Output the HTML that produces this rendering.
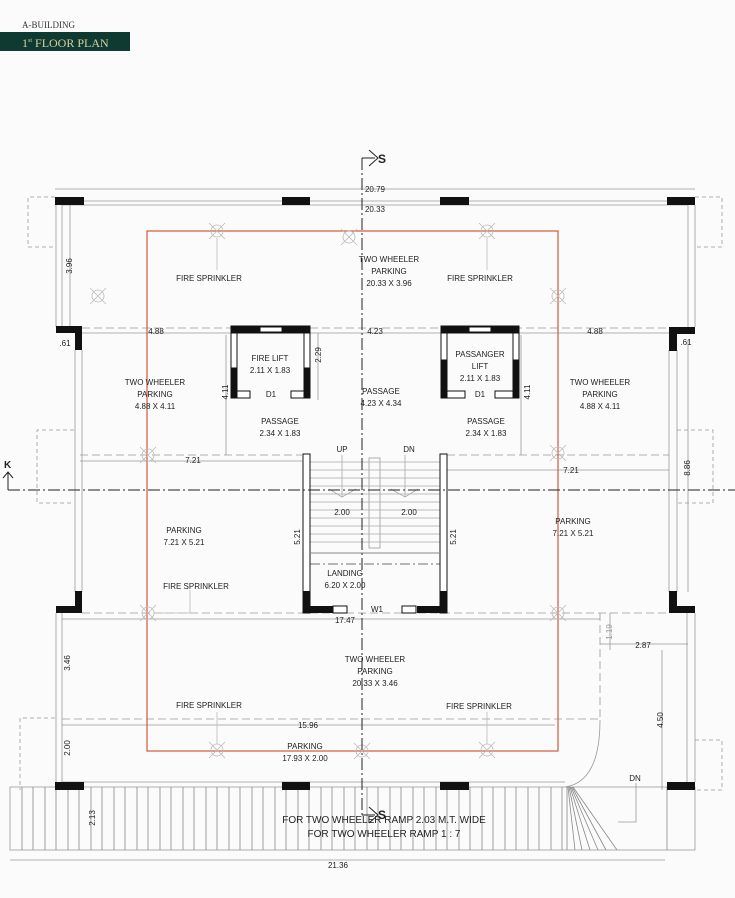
<!DOCTYPE html>
<html><head><meta charset="utf-8"><style>
html,body{margin:0;padding:0;background:#fbfbfb;}
svg{display:block;}
text{font-family:"Liberation Sans",sans-serif;font-size:8px;fill:#222;}
.c{text-anchor:middle;}
</style></head><body>
<svg width="735" height="898" viewBox="0 0 735 898" xmlns="http://www.w3.org/2000/svg">
<rect width="735" height="898" fill="#fbfbfb"/>
<!-- header -->
<text x="22" y="28" style="font-family:'Liberation Serif',serif;font-size:9px;fill:#333">A-BUILDING</text>
<rect x="0" y="32" width="130" height="19" fill="#0f3a32"/>
<text x="22" y="47" style="font-family:'Liberation Serif',serif;font-size:12px;fill:#d8cfa0">1<tspan font-size="6" dy="-5">st</tspan><tspan dy="5"> FLOOR PLAN</tspan></text>

<g stroke="#999" stroke-width="0.8" fill="none">
<!-- top dim -->
<line x1="55" y1="189" x2="695" y2="189"/>
<!-- top wall double -->
<line x1="55" y1="201" x2="695" y2="201"/>
<line x1="62" y1="205" x2="688" y2="205"/>
<!-- dashed projections -->
<path d="M55 197 H28 V247 H55" stroke-dasharray="4 3"/>
<path d="M695 197 H722 V247 H695" stroke-dasharray="4 3"/>
<path d="M74 430 H37 V503 H74" stroke-dasharray="4 3"/>
<path d="M677 430 H713 V503 H677" stroke-dasharray="4 3"/>
<path d="M55 718 H20 V790" stroke-dasharray="4 3"/>
<path d="M695 740 H722 V790 H695" stroke-dasharray="4 3"/>
<!-- left walls -->
<line x1="56" y1="205" x2="56" y2="327"/><line x1="62" y1="205" x2="62" y2="327"/>
<line x1="70" y1="205" x2="70" y2="327"/>
<line x1="75" y1="350" x2="75" y2="592"/><line x1="82" y1="350" x2="82" y2="592"/>
<line x1="56" y1="613" x2="56" y2="782"/><line x1="62" y1="613" x2="62" y2="782"/>
<!-- right walls -->
<line x1="688" y1="205" x2="688" y2="327"/><line x1="695" y1="205" x2="695" y2="327"/>
<line x1="669" y1="350" x2="669" y2="592"/><line x1="677" y1="350" x2="677" y2="592"/>
<line x1="688" y1="340" x2="688" y2="592"/>
<line x1="687" y1="613" x2="687" y2="782"/><line x1="695" y1="613" x2="695" y2="782"/>
<!-- dashed horizontal beams -->
<line x1="82" y1="328" x2="669" y2="328" stroke-dasharray="8 4"/>
<line x1="82" y1="333" x2="669" y2="333"/>
<line x1="80" y1="455" x2="302" y2="455" stroke-dasharray="8 4"/>
<line x1="80" y1="461" x2="302" y2="461"/>
<line x1="447" y1="455" x2="669" y2="455" stroke-dasharray="8 4"/>
<line x1="447" y1="470" x2="669" y2="470"/>
<line x1="82" y1="613" x2="669" y2="613" stroke-dasharray="8 4"/>
<line x1="62" y1="619" x2="600" y2="619"/>
<line x1="62" y1="719" x2="600" y2="719" stroke-dasharray="8 4"/>
<line x1="62" y1="725" x2="555" y2="725"/>
<line x1="600" y1="613" x2="600" y2="720" stroke-dasharray="8 4"/>
<line x1="600" y1="644" x2="688" y2="644"/>
<line x1="662" y1="650" x2="662" y2="790"/>
<line x1="610" y1="613" x2="610" y2="650"/>
<path d="M600 720 Q600 782 565 787"/>
<line x1="62" y1="782" x2="565" y2="782"/>
<!-- lift dims -->
<line x1="226" y1="335" x2="226" y2="455"/>
<line x1="318" y1="333" x2="318" y2="400"/>
<line x1="521" y1="335" x2="521" y2="455"/>
<!-- ramp -->
<rect x="10" y="787" width="685" height="63"/>
<line x1="10" y1="860" x2="665" y2="860"/>
<!-- DN leader -->
<path d="M636 783 V822 H618"/>
<!-- stair -->
<line x1="310" y1="564" x2="440" y2="564" stroke="#444" stroke-dasharray="10 3 2 3"/>
<rect x="369" y="458" width="11" height="90"/>
</g>
<!-- ramp lines -->
<g stroke="#888" stroke-width="0.8">
<line x1="22" y1="787" x2="22" y2="850"/><line x1="33" y1="787" x2="33" y2="850"/><line x1="45" y1="787" x2="45" y2="850"/><line x1="56" y1="787" x2="56" y2="850"/><line x1="68" y1="787" x2="68" y2="850"/><line x1="79" y1="787" x2="79" y2="850"/><line x1="91" y1="787" x2="91" y2="850"/><line x1="102" y1="787" x2="102" y2="850"/><line x1="114" y1="787" x2="114" y2="850"/><line x1="125" y1="787" x2="125" y2="850"/><line x1="137" y1="787" x2="137" y2="850"/><line x1="148" y1="787" x2="148" y2="850"/><line x1="160" y1="787" x2="160" y2="850"/><line x1="171" y1="787" x2="171" y2="850"/><line x1="183" y1="787" x2="183" y2="850"/><line x1="194" y1="787" x2="194" y2="850"/><line x1="206" y1="787" x2="206" y2="850"/><line x1="217" y1="787" x2="217" y2="850"/><line x1="229" y1="787" x2="229" y2="850"/><line x1="240" y1="787" x2="240" y2="850"/><line x1="252" y1="787" x2="252" y2="850"/><line x1="263" y1="787" x2="263" y2="850"/><line x1="275" y1="787" x2="275" y2="850"/><line x1="286" y1="787" x2="286" y2="850"/><line x1="298" y1="787" x2="298" y2="850"/><line x1="309" y1="787" x2="309" y2="850"/><line x1="321" y1="787" x2="321" y2="850"/><line x1="332" y1="787" x2="332" y2="850"/><line x1="344" y1="787" x2="344" y2="850"/><line x1="355" y1="787" x2="355" y2="850"/><line x1="367" y1="787" x2="367" y2="850"/><line x1="378" y1="787" x2="378" y2="850"/><line x1="390" y1="787" x2="390" y2="850"/><line x1="401" y1="787" x2="401" y2="850"/><line x1="413" y1="787" x2="413" y2="850"/><line x1="424" y1="787" x2="424" y2="850"/><line x1="436" y1="787" x2="436" y2="850"/><line x1="447" y1="787" x2="447" y2="850"/><line x1="459" y1="787" x2="459" y2="850"/><line x1="470" y1="787" x2="470" y2="850"/><line x1="482" y1="787" x2="482" y2="850"/><line x1="493" y1="787" x2="493" y2="850"/><line x1="505" y1="787" x2="505" y2="850"/><line x1="516" y1="787" x2="516" y2="850"/><line x1="528" y1="787" x2="528" y2="850"/><line x1="539" y1="787" x2="539" y2="850"/><line x1="551" y1="787" x2="551" y2="850"/><line x1="562" y1="787" x2="562" y2="850"/>
<line x1="567" y1="787" x2="567" y2="850"/><line x1="568" y1="787" x2="575" y2="850"/><line x1="569" y1="787" x2="582" y2="850"/><line x1="570" y1="787" x2="590" y2="850"/><line x1="571" y1="787" x2="598" y2="850"/><line x1="572" y1="787" x2="606" y2="850"/><line x1="573" y1="787" x2="617" y2="850"/>
<line x1="667" y1="787" x2="667" y2="850"/>
</g>
<!-- stair steps -->
<g stroke="#aaa" stroke-width="0.8">
<line x1="310" y1="462" x2="440" y2="462"/><line x1="310" y1="470" x2="440" y2="470"/><line x1="310" y1="478" x2="440" y2="478"/><line x1="310" y1="486" x2="440" y2="486"/><line x1="310" y1="494" x2="440" y2="494"/><line x1="310" y1="502" x2="440" y2="502"/><line x1="310" y1="510" x2="440" y2="510"/><line x1="310" y1="518" x2="440" y2="518"/><line x1="310" y1="526" x2="440" y2="526"/><line x1="310" y1="534" x2="440" y2="534"/><line x1="310" y1="542" x2="440" y2="542"/>
<path d="M329 489 L342 497 L356 489 M391 489 L405 497 L418 489" fill="none"/>
<line x1="342" y1="455" x2="342" y2="497"/><line x1="405" y1="455" x2="405" y2="497"/>
</g>
<!-- stair walls -->
<rect x="303" y="454" width="7" height="159" fill="#fff" stroke="#111" stroke-width="1"/>
<rect x="440" y="454" width="7" height="159" fill="#fff" stroke="#111" stroke-width="1"/>
<rect x="303" y="591" width="7" height="22" fill="#111"/>
<rect x="440" y="591" width="7" height="22" fill="#111"/>
<rect x="303" y="606" width="30" height="7" fill="#111"/>
<rect x="333" y="606" width="14" height="7" fill="#fff" stroke="#111"/>
<rect x="417" y="606" width="30" height="7" fill="#111"/>
<rect x="402" y="606" width="14" height="7" fill="#fff" stroke="#111"/>
<line x1="310" y1="553" x2="440" y2="553" stroke="#888" stroke-width="1"/>

<!-- columns -->
<g fill="#111">
<rect x="55" y="197" width="29" height="8"/><rect x="282" y="197" width="28" height="8"/><rect x="440" y="197" width="29" height="8"/><rect x="667" y="197" width="28" height="8"/>
<path d="M56 326 H82 V350 H75 V333 H56Z"/>
<path d="M669 327 H695 V334 H677 V351 H669Z"/>
<path d="M75 591 H82 V606 H82 V613 H56 V606 H75Z"/>
<path d="M669 591 H677 V606 H695 V613 H669Z"/>
<rect x="55" y="782" width="29" height="8"/><rect x="282" y="782" width="28" height="8"/><rect x="440" y="782" width="29" height="8"/><rect x="667" y="782" width="28" height="8"/>
</g>

<!-- lifts -->
<g stroke="#111" stroke-width="1">
<rect x="231" y="326" width="79" height="7" fill="#111"/>
<rect x="260" y="327" width="22" height="5" fill="#fff"/>
<rect x="231" y="333" width="6" height="65" fill="#fff"/><rect x="231" y="368" width="6" height="30" fill="#111"/>
<rect x="304" y="333" width="6" height="65" fill="#fff"/><rect x="304" y="368" width="6" height="30" fill="#111"/>
<rect x="237" y="391" width="13" height="7" fill="#fff"/><rect x="291" y="391" width="13" height="7" fill="#fff"/>
<rect x="441" y="326" width="78" height="7" fill="#111"/>
<rect x="469" y="327" width="22" height="5" fill="#fff"/>
<rect x="441" y="333" width="6" height="65" fill="#fff"/><rect x="441" y="360" width="6" height="38" fill="#111"/>
<rect x="513" y="333" width="6" height="65" fill="#fff"/><rect x="513" y="360" width="6" height="38" fill="#111"/>
<rect x="447" y="391" width="18" height="7" fill="#fff"/><rect x="495" y="391" width="18" height="7" fill="#fff"/>
</g>

<!-- red rect -->
<rect x="147" y="231" width="411" height="520" fill="none" stroke="#d25a3c" stroke-width="1.2"/>

<!-- sprinklers -->
<g stroke="#bbb" stroke-width="0.8" fill="none">
<g transform="translate(217,231)"><circle r="6"/><path d="M-8 -8 L8 8 M-8 8 L8 -8"/></g>
<g transform="translate(349,237)"><circle r="6"/><path d="M-8 -8 L8 8 M-8 8 L8 -8"/></g>
<g transform="translate(487,231)"><circle r="6"/><path d="M-8 -8 L8 8 M-8 8 L8 -8"/></g>
<g transform="translate(98,296)"><circle r="6"/><path d="M-8 -8 L8 8 M-8 8 L8 -8"/></g>
<g transform="translate(558,296)"><circle r="6"/><path d="M-8 -8 L8 8 M-8 8 L8 -8"/></g>
<g transform="translate(148,455)"><circle r="6"/><path d="M-8 -8 L8 8 M-8 8 L8 -8"/></g>
<g transform="translate(558,453)"><circle r="6"/><path d="M-8 -8 L8 8 M-8 8 L8 -8"/></g>
<g transform="translate(148,613)"><circle r="6"/><path d="M-8 -8 L8 8 M-8 8 L8 -8"/></g>
<g transform="translate(558,613)"><circle r="6"/><path d="M-8 -8 L8 8 M-8 8 L8 -8"/></g>
<g transform="translate(217,750)"><circle r="6"/><path d="M-8 -8 L8 8 M-8 8 L8 -8"/></g>
<g transform="translate(362,751)"><circle r="6"/><path d="M-8 -8 L8 8 M-8 8 L8 -8"/></g>
<g transform="translate(487,750)"><circle r="6"/><path d="M-8 -8 L8 8 M-8 8 L8 -8"/></g>
<line x1="217" y1="238" x2="217" y2="270"/><line x1="487" y1="238" x2="487" y2="270"/>
<line x1="217" y1="712" x2="217" y2="744"/><line x1="487" y1="712" x2="487" y2="744"/>
<path d="M190 590 V613 H155"/>
</g>

<!-- section lines -->
<g stroke="#222" stroke-width="1" fill="none">
<line x1="362" y1="158" x2="362" y2="815" stroke-dasharray="12 3 2 3"/>
<path d="M362 158 H375 M369 150 L378 158 L369 166"/>
<path d="M362 815 H375 M369 807 L378 815 L369 823"/>
<line x1="8" y1="490" x2="735" y2="490" stroke-dasharray="12 3 2 3"/>
<path d="M8 490 V472 M3 478 L8 472 L13 478"/>
</g>
<text x="378" y="163" style="font-size:12px;font-weight:bold">S</text>
<text x="378" y="819" style="font-size:12px;font-weight:bold">S</text>
<text x="4" y="468" style="font-size:10px;font-weight:bold">K</text>

<!-- labels -->
<g>
<text x="375" y="192" class="c">20.79</text>
<text x="375" y="212" class="c">20.33</text>
<text x="72" y="266" class="c" transform="rotate(-90 72 266)">3.96</text>
<text x="209" y="281" class="c">FIRE SPRINKLER</text>
<text x="480" y="281" class="c">FIRE SPRINKLER</text>
<text x="389" y="262" class="c">TWO WHEELER</text>
<text x="389" y="274" class="c">PARKING</text>
<text x="389" y="286" class="c">20.33 X 3.96</text>
<text x="156" y="334" class="c">4.88</text>
<text x="375" y="334" class="c">4.23</text>
<text x="595" y="334" class="c">4.88</text>
<text x="65" y="346" class="c">.61</text>
<text x="686" y="345" class="c">.61</text>
<text x="270" y="361" class="c">FIRE LIFT</text>
<text x="270" y="373" class="c">2.11 X 1.83</text>
<text x="271" y="397" class="c">D1</text>
<text x="321" y="355" class="c" transform="rotate(-90 321 355)">2.29</text>
<text x="228" y="392" class="c" transform="rotate(-90 228 392)">4.11</text>
<text x="480" y="357" class="c">PASSANGER</text>
<text x="480" y="369" class="c">LIFT</text>
<text x="480" y="381" class="c">2.11 X 1.83</text>
<text x="480" y="397" class="c">D1</text>
<text x="530" y="392" class="c" transform="rotate(-90 530 392)">4.11</text>
<text x="155" y="385" class="c">TWO WHEELER</text>
<text x="155" y="397" class="c">PARKING</text>
<text x="155" y="409" class="c">4.88 X 4.11</text>
<text x="600" y="385" class="c">TWO WHEELER</text>
<text x="600" y="397" class="c">PARKING</text>
<text x="600" y="409" class="c">4.88 X 4.11</text>
<text x="381" y="394" class="c">PASSAGE</text>
<text x="381" y="406" class="c">4.23 X 4.34</text>
<text x="280" y="424" class="c">PASSAGE</text>
<text x="280" y="436" class="c">2.34 X 1.83</text>
<text x="486" y="424" class="c">PASSAGE</text>
<text x="486" y="436" class="c">2.34 X 1.83</text>
<text x="342" y="452" class="c">UP</text>
<text x="409" y="452" class="c">DN</text>
<text x="193" y="463" class="c">7.21</text>
<text x="571" y="473" class="c">7.21</text>
<text x="690" y="468" class="c" transform="rotate(-90 690 468)">8.86</text>
<text x="342" y="515" class="c">2.00</text>
<text x="409" y="515" class="c">2.00</text>
<text x="300" y="537" class="c" transform="rotate(-90 300 537)">5.21</text>
<text x="456" y="537" class="c" transform="rotate(-90 456 537)">5.21</text>
<text x="184" y="533" class="c">PARKING</text>
<text x="184" y="545" class="c">7.21 X 5.21</text>
<text x="573" y="524" class="c">PARKING</text>
<text x="573" y="536" class="c">7.21 X 5.21</text>
<text x="345" y="576" class="c">LANDING</text>
<text x="345" y="588" class="c">6.20 X 2.00</text>
<text x="196" y="589" class="c">FIRE SPRINKLER</text>
<text x="377" y="612" class="c">W1</text>
<text x="345" y="623" class="c">17.47</text>
<text x="612" y="632" class="c" transform="rotate(-90 612 632)" style="fill:#999">1.19</text>
<text x="643" y="648" class="c">2.87</text>
<text x="375" y="662" class="c">TWO WHEELER</text>
<text x="375" y="674" class="c">PARKING</text>
<text x="375" y="686" class="c">20.33 X 3.46</text>
<text x="70" y="663" class="c" transform="rotate(-90 70 663)">3.46</text>
<text x="663" y="720" class="c" transform="rotate(-90 663 720)">4.50</text>
<text x="209" y="708" class="c">FIRE SPRINKLER</text>
<text x="479" y="709" class="c">FIRE SPRINKLER</text>
<text x="308" y="728" class="c">15.96</text>
<text x="305" y="749" class="c">PARKING</text>
<text x="305" y="761" class="c">17.93 X 2.00</text>
<text x="70" y="748" class="c" transform="rotate(-90 70 748)">2.00</text>
<text x="635" y="781" class="c">DN</text>
<text x="95" y="818" class="c" transform="rotate(-90 95 818)">2.13</text>
<text x="384" y="823" class="c" style="font-size:10px">FOR TWO WHEELER RAMP 2.03 M.T. WIDE</text>
<text x="384" y="837" class="c" style="font-size:10px">FOR TWO WHEELER RAMP 1 : 7</text>
<text x="338" y="868" class="c">21.36</text>
</g>
</svg>
</body></html>
